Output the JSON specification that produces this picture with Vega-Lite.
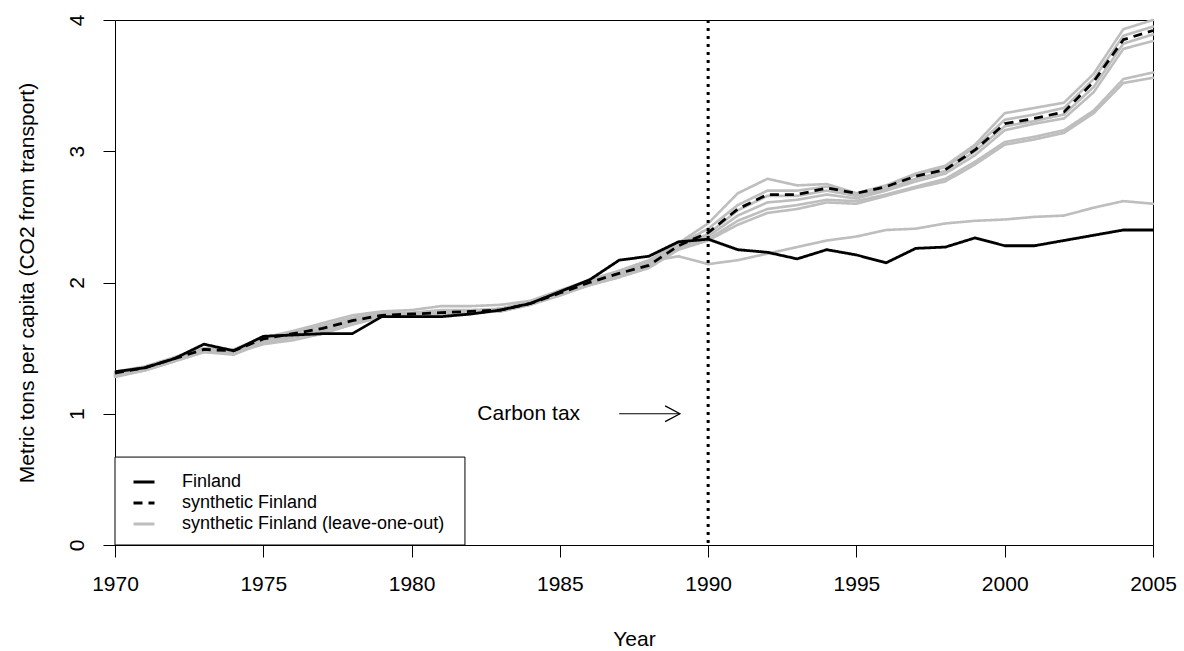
{
  "$schema": "https://vega.github.io/schema/vega-lite/v6.json",
  "autosize": {"type": "none"},
  "width": 1038,
  "height": 525,
  "padding": {"left": 115, "top": 20, "right": 31, "bottom": 106},
  "background": "white",
  "config": {
    "view": {"stroke": "black", "strokeWidth": 1},
    "font": "Liberation Sans",
    "axis": {
      "grid": false, "domain": false, "tickColor": "black", "tickSize": 12, "tickWidth": 1,
      "labelColor": "black", "labelFont": "Liberation Sans", "labelFontSize": 21,
      "titleColor": "black", "titleFont": "Liberation Sans", "titleFontSize": 21, "titleFontWeight": "normal"
    }
  },
  "datasets": {
    "main": [
      {"year":1970,"value":1.32,"series":"Finland"},{"year":1971,"value":1.35,"series":"Finland"},{"year":1972,"value":1.42,"series":"Finland"},{"year":1973,"value":1.53,"series":"Finland"},{"year":1974,"value":1.48,"series":"Finland"},{"year":1975,"value":1.59,"series":"Finland"},{"year":1976,"value":1.60,"series":"Finland"},{"year":1977,"value":1.61,"series":"Finland"},{"year":1978,"value":1.61,"series":"Finland"},{"year":1979,"value":1.74,"series":"Finland"},{"year":1980,"value":1.74,"series":"Finland"},{"year":1981,"value":1.74,"series":"Finland"},{"year":1982,"value":1.76,"series":"Finland"},{"year":1983,"value":1.79,"series":"Finland"},{"year":1984,"value":1.84,"series":"Finland"},{"year":1985,"value":1.93,"series":"Finland"},{"year":1986,"value":2.02,"series":"Finland"},{"year":1987,"value":2.17,"series":"Finland"},{"year":1988,"value":2.20,"series":"Finland"},{"year":1989,"value":2.31,"series":"Finland"},{"year":1990,"value":2.33,"series":"Finland"},{"year":1991,"value":2.25,"series":"Finland"},{"year":1992,"value":2.23,"series":"Finland"},{"year":1993,"value":2.18,"series":"Finland"},{"year":1994,"value":2.25,"series":"Finland"},{"year":1995,"value":2.21,"series":"Finland"},{"year":1996,"value":2.15,"series":"Finland"},{"year":1997,"value":2.26,"series":"Finland"},{"year":1998,"value":2.27,"series":"Finland"},{"year":1999,"value":2.34,"series":"Finland"},{"year":2000,"value":2.28,"series":"Finland"},{"year":2001,"value":2.28,"series":"Finland"},{"year":2002,"value":2.32,"series":"Finland"},{"year":2003,"value":2.36,"series":"Finland"},{"year":2004,"value":2.40,"series":"Finland"},{"year":2005,"value":2.40,"series":"Finland"},
      {"year":1970,"value":1.31,"series":"synthetic Finland"},{"year":1971,"value":1.35,"series":"synthetic Finland"},{"year":1972,"value":1.42,"series":"synthetic Finland"},{"year":1973,"value":1.49,"series":"synthetic Finland"},{"year":1974,"value":1.48,"series":"synthetic Finland"},{"year":1975,"value":1.57,"series":"synthetic Finland"},{"year":1976,"value":1.61,"series":"synthetic Finland"},{"year":1977,"value":1.65,"series":"synthetic Finland"},{"year":1978,"value":1.71,"series":"synthetic Finland"},{"year":1979,"value":1.75,"series":"synthetic Finland"},{"year":1980,"value":1.76,"series":"synthetic Finland"},{"year":1981,"value":1.77,"series":"synthetic Finland"},{"year":1982,"value":1.78,"series":"synthetic Finland"},{"year":1983,"value":1.79,"series":"synthetic Finland"},{"year":1984,"value":1.84,"series":"synthetic Finland"},{"year":1985,"value":1.92,"series":"synthetic Finland"},{"year":1986,"value":2.00,"series":"synthetic Finland"},{"year":1987,"value":2.07,"series":"synthetic Finland"},{"year":1988,"value":2.13,"series":"synthetic Finland"},{"year":1989,"value":2.28,"series":"synthetic Finland"},{"year":1990,"value":2.38,"series":"synthetic Finland"},{"year":1991,"value":2.56,"series":"synthetic Finland"},{"year":1992,"value":2.67,"series":"synthetic Finland"},{"year":1993,"value":2.67,"series":"synthetic Finland"},{"year":1994,"value":2.72,"series":"synthetic Finland"},{"year":1995,"value":2.68,"series":"synthetic Finland"},{"year":1996,"value":2.73,"series":"synthetic Finland"},{"year":1997,"value":2.81,"series":"synthetic Finland"},{"year":1998,"value":2.86,"series":"synthetic Finland"},{"year":1999,"value":3.01,"series":"synthetic Finland"},{"year":2000,"value":3.21,"series":"synthetic Finland"},{"year":2001,"value":3.25,"series":"synthetic Finland"},{"year":2002,"value":3.30,"series":"synthetic Finland"},{"year":2003,"value":3.53,"series":"synthetic Finland"},{"year":2004,"value":3.85,"series":"synthetic Finland"},{"year":2005,"value":3.92,"series":"synthetic Finland"}
    ],
    "loo": [
      {"run":"L1","year":1970,"value":1.32},{"run":"L1","year":1971,"value":1.36},{"run":"L1","year":1972,"value":1.43},{"run":"L1","year":1973,"value":1.50},{"run":"L1","year":1974,"value":1.49},{"run":"L1","year":1975,"value":1.58},{"run":"L1","year":1976,"value":1.63},{"run":"L1","year":1977,"value":1.69},{"run":"L1","year":1978,"value":1.75},{"run":"L1","year":1979,"value":1.78},{"run":"L1","year":1980,"value":1.79},{"run":"L1","year":1981,"value":1.82},{"run":"L1","year":1982,"value":1.82},{"run":"L1","year":1983,"value":1.83},{"run":"L1","year":1984,"value":1.86},{"run":"L1","year":1985,"value":1.94},{"run":"L1","year":1986,"value":2.02},{"run":"L1","year":1987,"value":2.09},{"run":"L1","year":1988,"value":2.17},{"run":"L1","year":1989,"value":2.30},{"run":"L1","year":1990,"value":2.45},{"run":"L1","year":1991,"value":2.68},{"run":"L1","year":1992,"value":2.79},{"run":"L1","year":1993,"value":2.74},{"run":"L1","year":1994,"value":2.75},{"run":"L1","year":1995,"value":2.68},{"run":"L1","year":1996,"value":2.74},{"run":"L1","year":1997,"value":2.83},{"run":"L1","year":1998,"value":2.89},{"run":"L1","year":1999,"value":3.05},{"run":"L1","year":2000,"value":3.29},{"run":"L1","year":2001,"value":3.33},{"run":"L1","year":2002,"value":3.37},{"run":"L1","year":2003,"value":3.59},{"run":"L1","year":2004,"value":3.93},{"run":"L1","year":2005,"value":4.00},
      {"run":"L2","year":1970,"value":1.31},{"run":"L2","year":1971,"value":1.35},{"run":"L2","year":1972,"value":1.42},{"run":"L2","year":1973,"value":1.49},{"run":"L2","year":1974,"value":1.48},{"run":"L2","year":1975,"value":1.57},{"run":"L2","year":1976,"value":1.62},{"run":"L2","year":1977,"value":1.67},{"run":"L2","year":1978,"value":1.73},{"run":"L2","year":1979,"value":1.77},{"run":"L2","year":1980,"value":1.77},{"run":"L2","year":1981,"value":1.79},{"run":"L2","year":1982,"value":1.79},{"run":"L2","year":1983,"value":1.80},{"run":"L2","year":1984,"value":1.85},{"run":"L2","year":1985,"value":1.93},{"run":"L2","year":1986,"value":2.01},{"run":"L2","year":1987,"value":2.08},{"run":"L2","year":1988,"value":2.15},{"run":"L2","year":1989,"value":2.29},{"run":"L2","year":1990,"value":2.41},{"run":"L2","year":1991,"value":2.59},{"run":"L2","year":1992,"value":2.70},{"run":"L2","year":1993,"value":2.70},{"run":"L2","year":1994,"value":2.73},{"run":"L2","year":1995,"value":2.67},{"run":"L2","year":1996,"value":2.73},{"run":"L2","year":1997,"value":2.82},{"run":"L2","year":1998,"value":2.88},{"run":"L2","year":1999,"value":3.03},{"run":"L2","year":2000,"value":3.24},{"run":"L2","year":2001,"value":3.28},{"run":"L2","year":2002,"value":3.33},{"run":"L2","year":2003,"value":3.55},{"run":"L2","year":2004,"value":3.88},{"run":"L2","year":2005,"value":3.95},
      {"run":"L3","year":1970,"value":1.30},{"run":"L3","year":1971,"value":1.34},{"run":"L3","year":1972,"value":1.41},{"run":"L3","year":1973,"value":1.48},{"run":"L3","year":1974,"value":1.47},{"run":"L3","year":1975,"value":1.56},{"run":"L3","year":1976,"value":1.60},{"run":"L3","year":1977,"value":1.65},{"run":"L3","year":1978,"value":1.71},{"run":"L3","year":1979,"value":1.76},{"run":"L3","year":1980,"value":1.76},{"run":"L3","year":1981,"value":1.77},{"run":"L3","year":1982,"value":1.78},{"run":"L3","year":1983,"value":1.79},{"run":"L3","year":1984,"value":1.84},{"run":"L3","year":1985,"value":1.92},{"run":"L3","year":1986,"value":2.00},{"run":"L3","year":1987,"value":2.07},{"run":"L3","year":1988,"value":2.13},{"run":"L3","year":1989,"value":2.27},{"run":"L3","year":1990,"value":2.37},{"run":"L3","year":1991,"value":2.55},{"run":"L3","year":1992,"value":2.66},{"run":"L3","year":1993,"value":2.66},{"run":"L3","year":1994,"value":2.70},{"run":"L3","year":1995,"value":2.66},{"run":"L3","year":1996,"value":2.71},{"run":"L3","year":1997,"value":2.79},{"run":"L3","year":1998,"value":2.85},{"run":"L3","year":1999,"value":3.00},{"run":"L3","year":2000,"value":3.19},{"run":"L3","year":2001,"value":3.23},{"run":"L3","year":2002,"value":3.28},{"run":"L3","year":2003,"value":3.49},{"run":"L3","year":2004,"value":3.82},{"run":"L3","year":2005,"value":3.89},
      {"run":"L4","year":1970,"value":1.29},{"run":"L4","year":1971,"value":1.33},{"run":"L4","year":1972,"value":1.40},{"run":"L4","year":1973,"value":1.47},{"run":"L4","year":1974,"value":1.46},{"run":"L4","year":1975,"value":1.55},{"run":"L4","year":1976,"value":1.59},{"run":"L4","year":1977,"value":1.63},{"run":"L4","year":1978,"value":1.69},{"run":"L4","year":1979,"value":1.75},{"run":"L4","year":1980,"value":1.75},{"run":"L4","year":1981,"value":1.76},{"run":"L4","year":1982,"value":1.77},{"run":"L4","year":1983,"value":1.78},{"run":"L4","year":1984,"value":1.83},{"run":"L4","year":1985,"value":1.91},{"run":"L4","year":1986,"value":1.99},{"run":"L4","year":1987,"value":2.06},{"run":"L4","year":1988,"value":2.12},{"run":"L4","year":1989,"value":2.26},{"run":"L4","year":1990,"value":2.35},{"run":"L4","year":1991,"value":2.51},{"run":"L4","year":1992,"value":2.61},{"run":"L4","year":1993,"value":2.63},{"run":"L4","year":1994,"value":2.67},{"run":"L4","year":1995,"value":2.64},{"run":"L4","year":1996,"value":2.70},{"run":"L4","year":1997,"value":2.77},{"run":"L4","year":1998,"value":2.83},{"run":"L4","year":1999,"value":2.97},{"run":"L4","year":2000,"value":3.16},{"run":"L4","year":2001,"value":3.21},{"run":"L4","year":2002,"value":3.25},{"run":"L4","year":2003,"value":3.45},{"run":"L4","year":2004,"value":3.78},{"run":"L4","year":2005,"value":3.84},
      {"run":"L5","year":1970,"value":1.30},{"run":"L5","year":1971,"value":1.34},{"run":"L5","year":1972,"value":1.41},{"run":"L5","year":1973,"value":1.48},{"run":"L5","year":1974,"value":1.47},{"run":"L5","year":1975,"value":1.56},{"run":"L5","year":1976,"value":1.60},{"run":"L5","year":1977,"value":1.64},{"run":"L5","year":1978,"value":1.70},{"run":"L5","year":1979,"value":1.75},{"run":"L5","year":1980,"value":1.76},{"run":"L5","year":1981,"value":1.78},{"run":"L5","year":1982,"value":1.78},{"run":"L5","year":1983,"value":1.80},{"run":"L5","year":1984,"value":1.85},{"run":"L5","year":1985,"value":1.93},{"run":"L5","year":1986,"value":2.01},{"run":"L5","year":1987,"value":2.08},{"run":"L5","year":1988,"value":2.14},{"run":"L5","year":1989,"value":2.28},{"run":"L5","year":1990,"value":2.33},{"run":"L5","year":1991,"value":2.47},{"run":"L5","year":1992,"value":2.56},{"run":"L5","year":1993,"value":2.59},{"run":"L5","year":1994,"value":2.63},{"run":"L5","year":1995,"value":2.62},{"run":"L5","year":1996,"value":2.67},{"run":"L5","year":1997,"value":2.73},{"run":"L5","year":1998,"value":2.79},{"run":"L5","year":1999,"value":2.92},{"run":"L5","year":2000,"value":3.07},{"run":"L5","year":2001,"value":3.11},{"run":"L5","year":2002,"value":3.16},{"run":"L5","year":2003,"value":3.31},{"run":"L5","year":2004,"value":3.55},{"run":"L5","year":2005,"value":3.60},
      {"run":"L6","year":1970,"value":1.29},{"run":"L6","year":1971,"value":1.33},{"run":"L6","year":1972,"value":1.40},{"run":"L6","year":1973,"value":1.47},{"run":"L6","year":1974,"value":1.45},{"run":"L6","year":1975,"value":1.54},{"run":"L6","year":1976,"value":1.58},{"run":"L6","year":1977,"value":1.62},{"run":"L6","year":1978,"value":1.68},{"run":"L6","year":1979,"value":1.74},{"run":"L6","year":1980,"value":1.74},{"run":"L6","year":1981,"value":1.76},{"run":"L6","year":1982,"value":1.77},{"run":"L6","year":1983,"value":1.78},{"run":"L6","year":1984,"value":1.83},{"run":"L6","year":1985,"value":1.90},{"run":"L6","year":1986,"value":1.98},{"run":"L6","year":1987,"value":2.04},{"run":"L6","year":1988,"value":2.11},{"run":"L6","year":1989,"value":2.25},{"run":"L6","year":1990,"value":2.32},{"run":"L6","year":1991,"value":2.44},{"run":"L6","year":1992,"value":2.53},{"run":"L6","year":1993,"value":2.56},{"run":"L6","year":1994,"value":2.61},{"run":"L6","year":1995,"value":2.60},{"run":"L6","year":1996,"value":2.66},{"run":"L6","year":1997,"value":2.72},{"run":"L6","year":1998,"value":2.77},{"run":"L6","year":1999,"value":2.90},{"run":"L6","year":2000,"value":3.05},{"run":"L6","year":2001,"value":3.09},{"run":"L6","year":2002,"value":3.14},{"run":"L6","year":2003,"value":3.29},{"run":"L6","year":2004,"value":3.52},{"run":"L6","year":2005,"value":3.56},
      {"run":"L7","year":1970,"value":1.28},{"run":"L7","year":1971,"value":1.33},{"run":"L7","year":1972,"value":1.40},{"run":"L7","year":1973,"value":1.48},{"run":"L7","year":1974,"value":1.46},{"run":"L7","year":1975,"value":1.53},{"run":"L7","year":1976,"value":1.56},{"run":"L7","year":1977,"value":1.61},{"run":"L7","year":1978,"value":1.68},{"run":"L7","year":1979,"value":1.74},{"run":"L7","year":1980,"value":1.75},{"run":"L7","year":1981,"value":1.77},{"run":"L7","year":1982,"value":1.78},{"run":"L7","year":1983,"value":1.80},{"run":"L7","year":1984,"value":1.84},{"run":"L7","year":1985,"value":1.91},{"run":"L7","year":1986,"value":1.98},{"run":"L7","year":1987,"value":2.04},{"run":"L7","year":1988,"value":2.16},{"run":"L7","year":1989,"value":2.20},{"run":"L7","year":1990,"value":2.14},{"run":"L7","year":1991,"value":2.17},{"run":"L7","year":1992,"value":2.22},{"run":"L7","year":1993,"value":2.27},{"run":"L7","year":1994,"value":2.32},{"run":"L7","year":1995,"value":2.35},{"run":"L7","year":1996,"value":2.40},{"run":"L7","year":1997,"value":2.41},{"run":"L7","year":1998,"value":2.45},{"run":"L7","year":1999,"value":2.47},{"run":"L7","year":2000,"value":2.48},{"run":"L7","year":2001,"value":2.50},{"run":"L7","year":2002,"value":2.51},{"run":"L7","year":2003,"value":2.57},{"run":"L7","year":2004,"value":2.62},{"run":"L7","year":2005,"value":2.60}
    ],
    "arrowhead": [
      {"year":1988.55,"value":1.06},{"year":1989.05,"value":1.0},{"year":1988.55,"value":0.94}
    ],
    "one": [{"label": "Carbon tax"}]
  },
  "layer": [
    {
      "data": {"name": "one"},
      "mark": {"type": "rect", "fill": "white", "stroke": "black", "strokeWidth": 1},
      "encoding": {
        "x": {"datum": 1970, "type": "quantitative"},
        "x2": {"datum": 1981.8},
        "y": {"datum": 0, "type": "quantitative"},
        "y2": {"datum": 0.67}
      }
    },
    {
      "data": {"name": "loo"},
      "mark": {"type": "line", "strokeWidth": 2.6, "strokeJoin": "round", "strokeCap": "round"},
      "encoding": {
        "x": {"field": "year", "type": "quantitative"},
        "y": {"field": "value", "type": "quantitative"},
        "detail": {"field": "run"},
        "color": {"datum": "synthetic Finland (leave-one-out)", "type": "nominal"},
        "strokeDash": {"datum": "synthetic Finland (leave-one-out)", "type": "nominal"}
      }
    },
    {
      "data": {"name": "main"},
      "mark": {"type": "line", "strokeWidth": 2.8, "strokeJoin": "round"},
      "encoding": {
        "x": {
          "field": "year", "type": "quantitative",
          "scale": {"domain": [1970, 2005], "nice": false, "zero": false},
          "axis": {"values": [1970, 1975, 1980, 1985, 1990, 1995, 2000, 2005], "format": "d", "labelPadding": 16, "title": "Year", "titleBaseline": "alphabetic", "titleY": 100, "labelFlush": false}
        },
        "y": {
          "field": "value", "type": "quantitative",
          "scale": {"domain": [0, 4], "nice": false},
          "axis": {"values": [0, 1, 2, 3, 4], "format": "d", "labelAngle": -90, "labelPadding": 16, "title": "Metric tons per capita (CO2 from transport)", "titleBaseline": "alphabetic", "titleX": -82, "labelFlush": false}
        },
        "color": {
          "field": "series", "type": "nominal",
          "scale": {"domain": ["Finland", "synthetic Finland", "synthetic Finland (leave-one-out)"], "range": ["black", "black", "#bebebe"]},
          "legend": {"title": null, "orient": "none", "legendX": 17, "legendY": 450, "symbolType": "stroke", "symbolSize": 441, "symbolStrokeWidth": 3, "labelFontSize": 18, "labelFont": "Liberation Sans", "labelColor": "black", "labelOffset": 26, "labelLimit": 0, "rowPadding": 0, "padding": 0}
        },
        "strokeDash": {
          "field": "series", "type": "nominal",
          "scale": {"domain": ["Finland", "synthetic Finland", "synthetic Finland (leave-one-out)"], "range": [[1, 0], [9, 6], [1, 0]]},
          "legend": {"title": null, "orient": "none", "legendX": 17, "legendY": 450, "symbolType": "stroke", "symbolSize": 441, "symbolStrokeWidth": 3, "labelFontSize": 18, "labelFont": "Liberation Sans", "labelColor": "black", "labelOffset": 26, "labelLimit": 0, "rowPadding": 0, "padding": 0}
        }
      }
    },
    {
      "data": {"name": "one"},
      "mark": {"type": "rule", "color": "black", "strokeWidth": 3, "strokeDash": [3, 5]},
      "encoding": {
        "x": {"datum": 1990, "type": "quantitative"}
      }
    },
    {
      "data": {"name": "one"},
      "mark": {"type": "text", "fontSize": 21, "font": "Liberation Sans", "color": "black", "align": "center", "baseline": "middle"},
      "encoding": {
        "x": {"datum": 1983.95, "type": "quantitative"},
        "y": {"datum": 1.0, "type": "quantitative"},
        "text": {"field": "label"}
      }
    },
    {
      "data": {"name": "one"},
      "mark": {"type": "rule", "color": "black", "strokeWidth": 1.2},
      "encoding": {
        "x": {"datum": 1987.0, "type": "quantitative"},
        "x2": {"datum": 1989.05},
        "y": {"datum": 1.0, "type": "quantitative"}
      }
    },
    {
      "data": {"name": "arrowhead"},
      "mark": {"type": "line", "color": "black", "strokeWidth": 1.2},
      "encoding": {
        "x": {"field": "year", "type": "quantitative"},
        "y": {"field": "value", "type": "quantitative"},
        "order": {"value": null}
      }
    }
  ]
}
